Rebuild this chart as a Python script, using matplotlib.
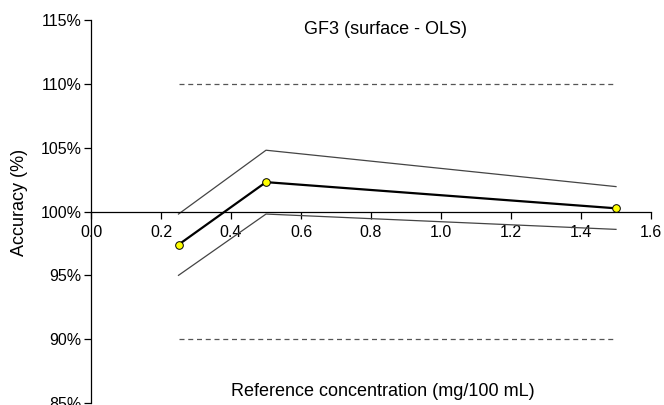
import matplotlib
matplotlib.use("Agg")
import matplotlib.pyplot as plt
from matplotlib.ticker import FuncFormatter

plt.rcParams['font.family'] = ['Liberation Sans', 'DejaVu Sans']

conc = [0.25, 0.5, 1.5]
accuracy = [97.4, 102.3, 100.25]
upper = [99.8, 104.8, 101.95]
lower = [95.0, 99.8, 98.6]
limit_x = [0.25, 1.5]
limit_hi = [110, 110]
limit_lo = [90, 90]
xticks = [0.0, 0.2, 0.4, 0.6, 0.8, 1.0, 1.2, 1.4, 1.6]
yticks = [85, 90, 95, 100, 105, 110, 115]

fig = plt.figure(figsize=(6.64, 4.05), dpi=100)
ax = fig.add_axes([91/664, 2/405, 560/664, 383/405])
ax.set_xlim(0, 1.6)
ax.set_ylim(85, 115)

ax.plot(limit_x, limit_hi, color='#555555', lw=0.9, ls=(0, (4, 3)))
ax.plot(limit_x, limit_lo, color='#555555', lw=0.9, ls=(0, (4, 3)))
ax.plot(conc, upper, color='#444444', lw=0.9)
ax.plot(conc, lower, color='#444444', lw=0.9)
ax.plot(conc, accuracy, color='black', lw=1.6, marker='o', ms=5.5,
        mfc='#ffff00', mec='black', mew=0.7, zorder=5)

ax.spines['top'].set_visible(False)
ax.spines['right'].set_visible(False)
ax.spines['bottom'].set_position(('data', 100))
ax.spines['left'].set_linewidth(0.9)
ax.spines['bottom'].set_linewidth(0.9)
ax.set_xticks(xticks)
ax.set_yticks(yticks)
ax.xaxis.set_major_formatter(FuncFormatter(lambda v, p: f"{v:.1f}"))
ax.yaxis.set_major_formatter(FuncFormatter(lambda v, p: f"{v:.0f}%"))
ax.tick_params(axis='both', direction='out', length=5, width=0.9, labelsize=11.5, pad=2)
ax.tick_params(axis='x', pad=5)

fig.text(385/664, 1 - 30/405, "GF3 (surface - OLS)", ha='center', va='center', fontsize=13)
fig.text(383/664, 1 - 391/405, "Reference concentration (mg/100 mL)",
         ha='center', va='center', fontsize=13)
fig.text(20/664, 1 - 202/405, "Accuracy (%)", rotation=90, ha='center', va='center',
         fontsize=13)

fig.savefig("out.png", dpi=100)
